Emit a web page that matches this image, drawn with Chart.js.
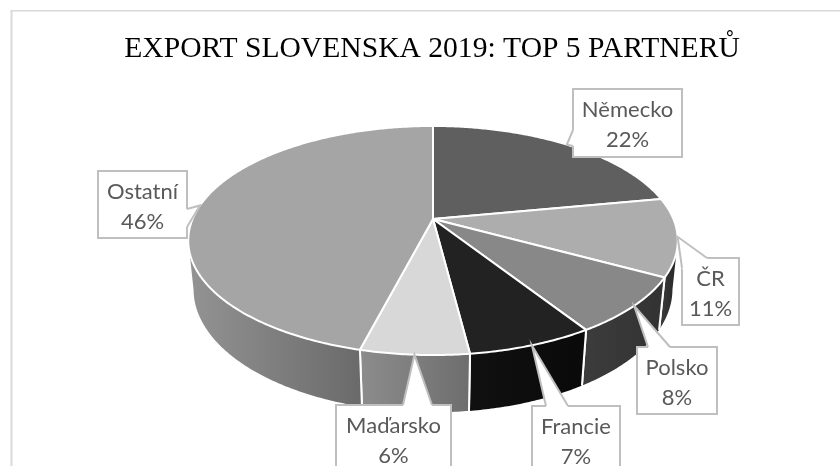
<!DOCTYPE html>
<html>
<head>
<meta charset="utf-8">
<script src="https://cdn.jsdelivr.net/npm/chart.js@4"></script>
<style>
  html, body { margin: 0; padding: 0; background: #fff; overflow: hidden; }
  #wrap { width: 840px; height: 466px; }
</style>
</head>
<body>
<div id="wrap"><canvas id="chart" width="840" height="466"></canvas></div>
<script>
const titleText = 'EXPORT SLOVENSKA 2019: TOP 5 PARTNERŮ';
const categories = ['Německo', 'ČR', 'Polsko', 'Francie', 'Maďarsko', 'Ostatní'];
const shares = [22, 11, 8, 7, 6, 46];

const topColors = ['#5f5f5f', '#adadad', '#888888', '#222222', '#d8d8d8', '#a5a5a5'];
const wallColors = [null, ['#3c3c3c', '#2c2c2c'], ['#3c3c3c', '#333333'], ['#101010', '#0a0a0a'], ['#8c8c8c', '#6e6e6e'], ['#929292', '#6a6a6a']];

// label boxes: x0, y0, x1, y1 and the two points where the tail meets the box
const labelBoxes = [
  { box: [573, 89, 682, 157], a: [573, 130], b: [573, 146] },
  { box: [682, 258, 739, 325], a: [707, 258], b: [682, 268] },
  { box: [637, 347, 717, 414], a: [648, 347], b: [670, 347] },
  { box: [532, 406, 620, 474], a: [546, 406], b: [568, 406] },
  { box: [336, 405, 451, 474], a: [403, 405], b: [432, 405] },
  { box: [98, 171, 187, 238], a: [187, 209], b: [187, 227] }
];

// perspective of the tilted disc, top face and bottom face (fitted to the picture)
const topFace = { cx: 433, cy: 219, s: 240.4, k: 110.5, w: -0.1878 };
const bottomFace = { cx: 433, cy: 267, s: 235.5, k: 119, w: -0.181 };
const WALL_FROM = 10.7 * Math.PI / 180;   // silhouette on the right
const WALL_TO = 169.3 * Math.PI / 180;    // silhouette on the left

function project(face, angle) {
  const u = Math.cos(angle), v = Math.sin(angle);
  const d = 1 + face.w * v;
  return [face.cx + face.s * u / d, face.cy + face.k * v / d];
}

function tracePoints(ctx, face, from, to) {
  const steps = Math.max(2, Math.ceil(Math.abs(to - from) / 0.01));
  for (let i = 0; i <= steps; i++) {
    const p = project(face, from + (to - from) * i / steps);
    ctx.lineTo(p[0], p[1]);
  }
}

const pie3d = {
  id: 'pie3d',
  beforeDraw(chart) {
    const ctx = chart.ctx;
    ctx.save();
    // only the top and left of the frame are inside the picture
    ctx.strokeStyle = '#d9d9d9';
    ctx.lineWidth = 1.5;
    ctx.beginPath();
    ctx.moveTo(11, 10.75);
    ctx.lineTo(840, 10.75);
    ctx.stroke();
    ctx.lineWidth = 2;
    ctx.beginPath();
    ctx.moveTo(11.5, 10);
    ctx.lineTo(11.5, 466);
    ctx.stroke();
    ctx.restore();
  },
  // the slices are projected by hand, Chart.js only supplies the angles
  beforeDatasetsDraw(chart) {
    const ctx = chart.ctx;
    const arcs = chart.getDatasetMeta(0).data;
    ctx.save();
    ctx.lineJoin = 'round';

    arcs.forEach((arc, i) => {
      if (!wallColors[i]) return;
      const from = Math.max(arc.startAngle, WALL_FROM);
      const to = Math.min(arc.endAngle, WALL_TO);
      if (to <= from) return;
      const p0 = project(bottomFace, from), p1 = project(bottomFace, to);
      const grad = ctx.createLinearGradient(Math.min(p0[0], p1[0]), 0, Math.max(p0[0], p1[0]), 0);
      grad.addColorStop(0, wallColors[i][0]);
      grad.addColorStop(1, wallColors[i][1]);
      ctx.beginPath();
      tracePoints(ctx, topFace, from, to);
      tracePoints(ctx, bottomFace, to, from);
      ctx.closePath();
      ctx.fillStyle = grad;
      ctx.fill();
      // seams between wall pieces, none on the outer silhouette
      ctx.strokeStyle = '#fff';
      ctx.lineWidth = 2;
      [[from, from > WALL_FROM], [to, to < WALL_TO]].forEach(([ang, seam]) => {
        if (!seam) return;
        const a = project(topFace, ang), b = project(bottomFace, ang);
        ctx.beginPath();
        ctx.moveTo(a[0], a[1]);
        ctx.lineTo(b[0], b[1]);
        ctx.stroke();
      });
    });

    arcs.forEach((arc, i) => {
      ctx.beginPath();
      ctx.moveTo(topFace.cx, topFace.cy);
      tracePoints(ctx, topFace, arc.startAngle, arc.endAngle);
      ctx.closePath();
      ctx.fillStyle = topColors[i];
      ctx.fill();
      ctx.strokeStyle = '#fff';
      ctx.lineWidth = 2;
      ctx.stroke();
    });
    ctx.restore();
    return false;
  },
  afterDraw(chart) {
    const ctx = chart.ctx;
    const arcs = chart.getDatasetMeta(0).data;
    ctx.save();
    arcs.forEach((arc, i) => {
      const lb = labelBoxes[i];
      const [x0, y0, x1, y1] = lb.box;
      const tip = project(topFace, (arc.startAngle + arc.endAngle) / 2);
      ctx.fillStyle = '#fff';
      ctx.strokeStyle = '#bfbfbf';
      ctx.lineWidth = 2;
      ctx.beginPath();
      ctx.rect(x0, y0, x1 - x0, y1 - y0);
      ctx.fill();
      ctx.stroke();
      // tail
      ctx.beginPath();
      ctx.moveTo(lb.a[0], lb.a[1]);
      ctx.lineTo(tip[0], tip[1]);
      ctx.lineTo(lb.b[0], lb.b[1]);
      ctx.closePath();
      ctx.fill();
      ctx.beginPath();
      ctx.moveTo(lb.a[0], lb.a[1]);
      ctx.lineTo(lb.b[0], lb.b[1]);
      ctx.strokeStyle = '#fff';
      ctx.lineWidth = 2.5;
      ctx.stroke();
      ctx.beginPath();
      ctx.moveTo(lb.a[0], lb.a[1]);
      ctx.lineTo(tip[0], tip[1]);
      ctx.lineTo(lb.b[0], lb.b[1]);
      ctx.strokeStyle = '#bfbfbf';
      ctx.lineWidth = 2;
      ctx.stroke();
      // text
      const cx = (x0 + x1) / 2, cy = y0 + 36;
      ctx.fillStyle = '#595959';
      ctx.font = '22px Lato, sans-serif';
      ctx.textAlign = 'center';
      ctx.textBaseline = 'middle';
      ctx.fillText(categories[i], cx, cy - 15);
      ctx.fillText(shares[i] + '%', cx, cy + 15);
    });
    ctx.restore();
  }
};

new Chart(document.getElementById('chart'), {
  type: 'pie',
  data: {
    labels: categories,
    datasets: [{ data: shares, backgroundColor: topColors }]
  },
  options: {
    responsive: false,
    animation: false,
    layout: { padding: { left: 24 } },
    plugins: {
      legend: { display: false },
      tooltip: { enabled: false },
      title: {
        display: true,
        fullSize: false,
        text: titleText,
        color: '#000',
        font: { family: '"Liberation Serif", serif', size: 29.6, weight: 'normal' },
        padding: { top: 31, bottom: 0 }
      }
    }
  },
  plugins: [pie3d]
});
</script>
</body>
</html>
